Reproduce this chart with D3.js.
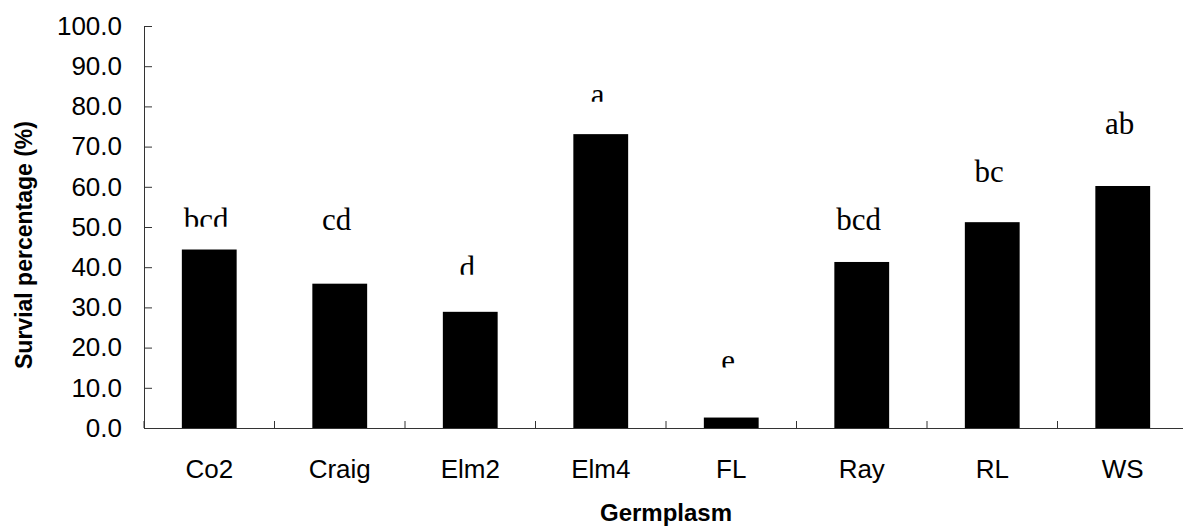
<!DOCTYPE html>
<html>
<head>
<meta charset="utf-8">
<script src="https://cdn.jsdelivr.net/npm/d3@7"></script>
<style>
  body { margin: 0; background: #fff; }
  svg { display: block; }
</style>
</head>
<body>
<div id="chart"></div>
<script>
// germplasm lines and survival (%)
var categories = ['Co2', 'Craig', 'Elm2', 'Elm4', 'FL', 'Ray', 'RL', 'WS']
var survival   = [44.4, 35.9, 28.9, 73.1, 2.6, 41.3, 51.2, 60.2]
// mean separation letters, and the y value their baseline sits at
var letters     = ['bcd', 'cd', 'd', 'a', 'e', 'bcd', 'bc', 'ab']
var letterLevel = [49.3, 49.3, 37.4, 80.4, 14.3, 49.3, 61.3, 73.1]
var letterCut   = [true, false, true, true, true, false, false, false]
var yTicks = d3.range(0, 101, 10)

var width = 1183, height = 527
var m = {left: 144, top: 26, right: -5, bottom: 99}

var svg = d3.select('#chart').append('svg')
    .attr('width', width).attr('height', height)

var x = d3.scaleBand()
    .domain(categories)
    .range([m.left, width - m.right])
    .padding(0)

var y = d3.scaleLinear()
    .domain([0, 100])
    .range([height - m.bottom, m.top])

var barW = x.bandwidth() * 0.42

// bars
svg.append('g').selectAll('rect')
  .data(survival)
  .join('rect')
    .attr('x', function(d, i){ return x(categories[i]) + (x.bandwidth() - barW) / 2 })
    .attr('y', function(d){ return y(d) })
    .attr('width', barW)
    .attr('height', function(d){ return y(0) - y(d) })
    .attr('fill', '#000')

// y axis, ticks pointing into the plot
var yAxis = svg.append('g')
    .attr('transform', 'translate(' + m.left + ',0)')
    .call(d3.axisLeft(y)
      .tickValues(yTicks)
      .tickFormat(d3.format('.1f'))
      .tickSizeInner(-8)
      .tickSizeOuter(0)
      .tickPadding(22))
yAxis.select('.domain').attr('stroke', '#333')
yAxis.selectAll('.tick line').attr('stroke', '#333')
yAxis.selectAll('text')
    .attr('font-family', '"Liberation Sans", Arial, sans-serif')
    .attr('font-size', 26)
    .attr('fill', '#000')

// x axis: labels centred, ticks on category boundaries
var xAxis = svg.append('g')
    .attr('transform', 'translate(0,' + y(0) + ')')
    .call(d3.axisBottom(x).tickSize(0).tickPadding(32))
xAxis.select('.domain').attr('stroke', '#333')
xAxis.selectAll('text')
    .attr('font-family', '"Liberation Sans", Arial, sans-serif')
    .attr('font-size', 26)
    .attr('fill', '#000')

xAxis.selectAll('line.bound')
  .data(categories)
  .join('line')
    .attr('class', 'bound')
    .attr('x1', function(d){ return x(d) })
    .attr('x2', function(d){ return x(d) })
    .attr('y1', 0)
    .attr('y2', -7)
    .attr('stroke', '#333')

// significance letters (some text boxes cut the bottom off)
var defs = svg.append('defs')
letters.forEach(function(t, i){
  var cx = x(categories[i]) + x.bandwidth() / 2 - 3
  var base = y(letterLevel[i])
  var g = svg.append('g')
  if (letterCut[i]) {
    defs.append('clipPath').attr('id', 'cut' + i)
      .append('rect')
        .attr('x', cx - 60).attr('y', base - 60)
        .attr('width', 120).attr('height', 57)
    g.attr('clip-path', 'url(#cut' + i + ')')
  }
  g.append('text')
    .attr('x', cx)
    .attr('y', base)
    .attr('text-anchor', 'middle')
    .attr('font-family', '"Liberation Serif", "Times New Roman", serif')
    .attr('font-size', 31)
    .attr('fill', '#000')
    .text(t)
})

// axis titles
svg.append('text')
    .attr('x', (m.left + width - m.right) / 2)
    .attr('y', 521)
    .attr('text-anchor', 'middle')
    .attr('font-family', '"Liberation Sans", Arial, sans-serif')
    .attr('font-weight', 'bold')
    .attr('font-size', 24)
    .text('Germplasm')

svg.append('text')
    .attr('transform', 'translate(32,' + 245 + ') rotate(-90)')
    .attr('text-anchor', 'middle')
    .attr('font-family', '"Liberation Sans", Arial, sans-serif')
    .attr('font-weight', 'bold')
    .attr('font-size', 23)
    .text('Survial percentage (%)')
</script>
</body>
</html>
